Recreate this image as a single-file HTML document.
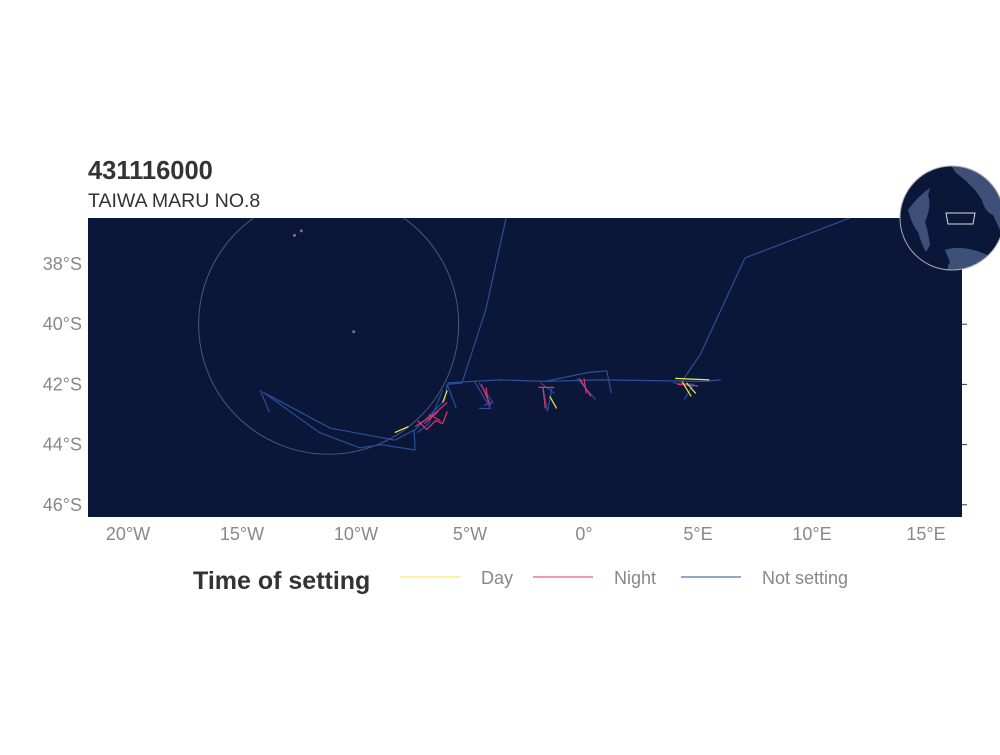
<!DOCTYPE html>
<html><head><meta charset="utf-8"><style>
body{margin:0;background:#fff;width:1000px;height:750px;overflow:hidden;font-family:"Liberation Sans",sans-serif}
</style></head><body>
<svg id="chart" width="1000" height="750" xmlns="http://www.w3.org/2000/svg">
<defs><clipPath id="clip"><rect x="88" y="218" width="874" height="299"/></clipPath>
<clipPath id="gclip"><circle cx="952" cy="218" r="52"/></clipPath></defs>
<text x="88" y="179" font-size="25.5" font-weight="bold" fill="#333">431116000</text>
<text x="88" y="207" font-size="19.5" fill="#333">TAIWA MARU NO.8</text>
<rect x="88" y="218" width="874" height="299" fill="#0b1739"/>
<g id="map" clip-path="url(#clip)"></g>
<g id="axes"></g>
<g>
<circle cx="952" cy="218" r="52" fill="#0b1739"/>
<g clip-path="url(#gclip)">
<path d="M948 160 Q975 160 1000 170 L1000 230 L993 215 Q985 212 982 200 L975 190 L965 180 L955 172 Z" fill="#3e5078"/>
<path d="M930 188 Q918 196 908 210 Q912 225 918 232 Q922 245 926 252 L930 245 Q928 230 925 222 Q932 205 928 195 Z" fill="#3e5078"/>
<path d="M945 250 Q960 245 980 252 Q995 258 1000 262 L1000 280 L950 280 Q945 268 950 262 Z" fill="#3e5078"/>
</g>
<circle cx="952" cy="218" r="52" fill="none" stroke="#aaa" stroke-width="1"/>
<path d="M946 213 L975 213 L973 224 L948 224 Z" fill="none" stroke="#ddd" stroke-width="1"/>
</g>
<g>
<text x="193" y="589" font-size="25" font-weight="bold" fill="#333">Time of setting</text>
<line x1="400" x2="460" y1="577" y2="577" stroke="#f5e63b" stroke-width="1"/>
<text x="481" y="584" font-size="18" fill="#888">Day</text>
<line x1="533" x2="593" y1="577" y2="577" stroke="#e0336a" stroke-width="1"/>
<text x="614" y="584" font-size="18" fill="#888">Night</text>
<line x1="681" x2="741" y1="577" y2="577" stroke="#2b4d9a" stroke-width="1"/>
<text x="762" y="584" font-size="18" fill="#888">Not setting</text>
</g>
</svg>
<script>
const lonTicks=[-20,-15,-10,-5,0,5,10,15];
const lonLabels=["20°W","15°W","10°W","5°W","0°","5°E","10°E","15°E"];
const latTicks=[38,40,42,44,46];
const latLabels=["38°S","40°S","42°S","44°S","46°S"];
const notSetting=[
 [[-3.42,36.47],[-4.3,39.5],[-5.35,41.95],[-6.0,42.0]],
 [[11.67,36.47],[7.06,37.8],[5.09,41.02],[4.34,41.85]],
 [[-6.0,41.95],[-3.7,41.85],[-1.7,41.9],[0.7,41.85],[5.3,41.9],[6.0,41.85]],
 [[-1.7,41.9],[0.2,41.6],[1.0,41.55],[1.2,42.3]],
 [[-14.2,42.19],[-13.8,42.92]],
 [[-14.1,42.25],[-11.14,43.45],[-8.29,43.85],[-7.4,43.5],[-6.1,42.52],[-6.0,42.0]],
 [[-14.0,42.3],[-11.6,43.6],[-9.82,44.11],[-8.9,44.0],[-7.41,44.18],[-7.45,43.5]],
 [[-6.0,42.0],[-5.6,42.8]],[[-4.8,41.9],[-4.1,42.8],[-4.6,42.8]],
 [[-1.8,42.1],[-1.6,42.9],[-1.4,42.1]],
 [[-6.2,42.2],[-6.8,43.3],[-7.3,43.6]],[[-4.6,41.95],[-4.0,42.6],[-4.4,42.7]],
 [[-0.3,41.8],[0.5,42.5]],[[-1.9,41.95],[-1.3,42.3]],[[3.9,41.95],[4.8,42.0],[4.4,42.5]]
];
const day=[[[-8.3,43.6],[-7.7,43.4]],[[-6.0,42.2],[-6.2,42.6]],[[-1.5,42.4],[-1.2,42.8]],[[4.0,41.8],[5.5,41.85]],[[4.3,41.9],[4.7,42.4]],[[4.5,41.95],[4.9,42.3]]];
const night=[[[-7.4,43.4],[-6.6,43.0],[-6.0,42.6]],[[-7.0,43.3],[-6.4,42.9]],[[-7.3,43.2],[-6.9,43.5],[-6.5,43.2],[-6.2,43.3],[-6.0,42.9]],[[-6.8,43.0],[-6.3,43.2]],[[-4.5,42.0],[-4.1,42.7]],[[-4.3,42.1],[-4.2,42.6]],[[-1.8,42.1],[-1.7,42.8]],[[-2.0,42.1],[-1.3,42.1]],[[-0.2,41.8],[0.3,42.4]],[[0.0,41.8],[0.1,42.3]],[[4.1,42.0],[5.0,42.05]]];
const eez={lon:-11.2,lat:40.0,r:130};
const islands=[[-12.4,36.9],[-12.7,37.05],[-10.1,40.25]];
const X=lon=>584+22.8*lon, Y=lat=>264+(lat-38)*30.1;
const ns="http://www.w3.org/2000/svg";
const map=document.getElementById('map'), axes=document.getElementById('axes');
function mk(t,a,p){const e=document.createElementNS(ns,t);for(const k in a)e.setAttribute(k,a[k]);p.appendChild(e);return e;}
let c=mk('circle',{cx:X(eez.lon),cy:Y(eez.lat),r:eez.r,fill:'none',stroke:'#4a5778','stroke-width':1},map);


islands.forEach(p=>{const e=mk('circle',{cx:X(p[0]),cy:Y(p[1]),r:1.5,fill:'#777'},map);

});
function draw(arr,col,name){arr.forEach(s=>{const e=mk('polyline',{points:s.map(p=>X(p[0])+','+Y(p[1])).join(' '),fill:'none',stroke:col,'stroke-width':1.2},map);

});}
draw(notSetting,'#2b4d9a','track-not-setting');
draw(night,'#e0336a','track-night');
draw(day,'#f5e63b','track-day');
lonTicks.forEach((v,i)=>{const t=mk('text',{x:X(v),y:540,'font-size':18,fill:'#888','text-anchor':'middle'},axes);t.textContent=lonLabels[i];

});
latTicks.forEach((v,i)=>{const t=mk('text',{x:82,y:Y(v)+6,'font-size':18,fill:'#888','text-anchor':'end'},axes);t.textContent=latLabels[i];


mk('line',{x1:962,x2:967,y1:Y(v),y2:Y(v),stroke:'#333'},axes);});
</script>
</body></html>
